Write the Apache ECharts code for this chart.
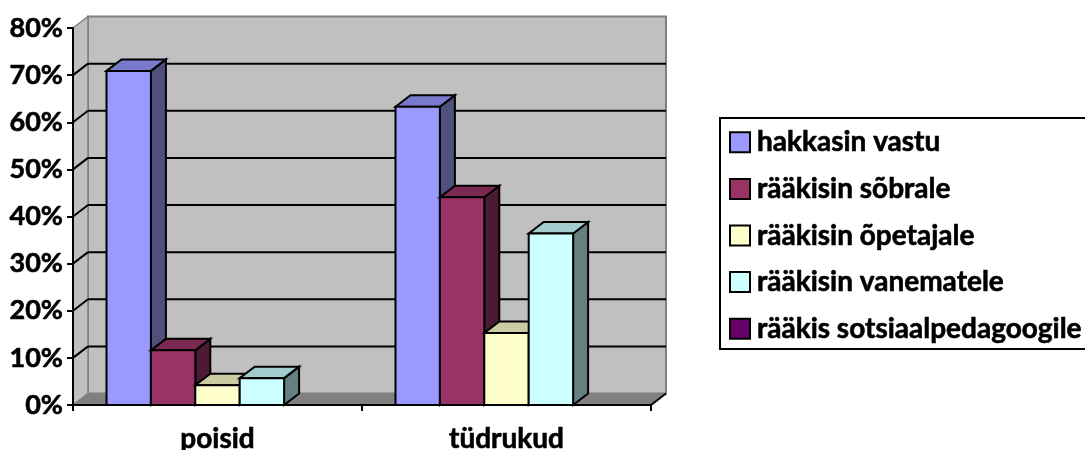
<!DOCTYPE html>
<html><head><meta charset="utf-8">
<style>html,body{margin:0;padding:0;background:#fff}#c{width:1085px;height:450px}</style>
<script src="https://cdn.jsdelivr.net/npm/echarts@6/dist/echarts.min.js"></script>
</head><body><div id="c"></div>
<script>
const categories = ['poisid', 'tüdrukud'];
const seriesNames = ['hakkasin vastu', 'rääkisin sõbrale', 'rääkisin õpetajale', 'rääkisin vanematele', 'rääkis sotsiaalpedagoogile'];
const hakkasinVastu = [0.709, 0.633];
const raakisinSobrale = [0.116, 0.441];
const raakisinOpetajale = [0.042, 0.153];
const raakisinVanematele = [0.057, 0.364];
const raakisSotsiaalpedagoogile = [0, 0];
const seriesValues = [hakkasinVastu, raakisinSobrale, raakisinOpetajale, raakisinVanematele, raakisSotsiaalpedagoogile];
const colors = ['#9999FF', '#993366', '#FFFFCC', '#CCFFFF', '#660066'];
const topColors = ['#7A7ACC', '#7A2952', '#CCCCA3', '#A3CCCC', '#520052'];
const sideColors = ['#50507F', '#4D1A33', '#7F7F66', '#668080', '#330033'];
const tickValues = [0, 0.1, 0.2, 0.3, 0.4, 0.5, 0.6, 0.7, 0.8];

const FONT = 'Lato, Carlito, "Open Sans", sans-serif';
const WEIGHT = 'bold';
const THICK = { textBorderColor: '#000', textBorderWidth: 0.6 };
const DX = 15, DY = -11.5;
const GROUP_FILL = 222 / 289;
const N = seriesNames.length;

function poly(pts, fill, stroke, lw) {
  return { type: 'polygon', shape: { points: pts }, style: { fill: fill, stroke: stroke, lineWidth: lw, lineJoin: 'miter' } };
}
function line(a, b, stroke, lw) {
  return { type: 'line', shape: { x1: a[0], y1: a[1], x2: b[0], y2: b[1] }, style: { stroke: stroke, lineWidth: lw } };
}

function renderWalls(params, api) {
  if (params.dataIndex !== 0) return;
  const catW = api.size([1, 0])[0];
  const x0 = api.coord([0, 0])[0] - catW / 2;
  const x1 = x0 + catW * categories.length;
  const y0 = api.coord([0, 0])[1];
  const yT = api.coord([0, tickValues[tickValues.length - 1]])[1];
  const G = '#808080', W = '#C0C0C0';
  const kids = [
    poly([[x0 + DX, yT + DY], [x1 + DX, yT + DY], [x1 + DX, y0 + DY], [x0 + DX, y0 + DY]], W, G, 2),
    poly([[x0, yT], [x0 + DX, yT + DY], [x0 + DX, y0 + DY], [x0, y0]], W, G, 1.5),
    poly([[x0, y0], [x0 + DX, y0 + DY], [x1 + DX, y0 + DY], [x1, y0]], G, G, 1)
  ];
  tickValues.slice(1, -1).forEach(function (t) {
    const y = api.coord([0, t])[1];
    kids.push(line([x0, y], [x0 + DX, y + DY], '#000', 2));
    kids.push(line([x0 + DX, y + DY], [x1 + DX, y + DY], '#000', 2));
  });
  kids.push(line([x1, y0], [x1 + DX, y0 + DY], '#000', 2));
  return { type: 'group', children: kids };
}

function makeRender(si) {
  return function (params, api) {
    const v = api.value(1);
    if (!v) return;
    const catW = api.size([1, 0])[0];
    const barW = catW * GROUP_FILL / N;
    const c = api.coord([api.value(0), 0]);
    const t = api.coord([api.value(0), v]);
    const l = c[0] - catW * GROUP_FILL / 2 + si * barW;
    const r = l + barW;
    const yb = c[1], yt = t[1];
    const S = '#000';
    return { type: 'group', children: [
      poly([[r, yb], [r + DX, yb + DY], [r + DX, yt + DY], [r, yt]], sideColors[si], S, 2),
      poly([[l, yt], [l + DX, yt + DY], [r + DX, yt + DY], [r, yt]], topColors[si], S, 2),
      poly([[l, yb], [l, yt], [r, yt], [r, yb]], colors[si], S, 2)
    ] };
  };
}

const series = [{
  type: 'custom', name: '_walls', silent: true, z: -1, clip: false,
  renderItem: renderWalls, data: [[0, 0]], encode: { x: 0, y: 1 }
}].concat(seriesNames.map(function (n, si) {
  return {
    type: 'custom', name: n, clip: false, z: 2 + si,
    renderItem: makeRender(si),
    itemStyle: { color: colors[si] },
    encode: { x: 0, y: 1 },
    data: categories.map(function (c, i) { return [i, seriesValues[si][i]]; })
  };
}));

const chart = echarts.init(document.getElementById('c'), null, { renderer: 'canvas' });
chart.setOption({
  animation: false,
  backgroundColor: '#fff',
  grid: { left: 73, right: 434, top: 28, bottom: 45, containLabel: false, outerBoundsMode: 'none' },
  xAxis: {
    type: 'category', data: categories,
    axisLine: { lineStyle: { color: '#000', width: 2 } },
    axisTick: { show: true, length: 6, lineStyle: { color: '#000', width: 2 } },
    axisLabel: Object.assign({ color: '#000', fontFamily: FONT, fontWeight: WEIGHT, fontSize: 28, margin: 20 }, THICK),
    splitLine: { show: false }
  },
  yAxis: {
    type: 'value', min: 0, max: 0.8, interval: 0.1,
    axisLine: { show: true, lineStyle: { color: '#000', width: 2 } },
    axisTick: { show: true, length: 6, lineStyle: { color: '#000', width: 2 } },
    axisLabel: Object.assign({ color: '#000', fontFamily: FONT, fontWeight: WEIGHT, fontSize: 27, margin: 10,
      formatter: function (v) { return Math.round(v * 100) + '%'; } }, THICK),
    splitLine: { show: false }
  },
  legend: {
    orient: 'vertical', left: 729, top: 128, padding: 0,
    itemWidth: 20, itemHeight: 20, itemGap: 18,
    selectedMode: false,
    textStyle: Object.assign({ color: '#000', fontFamily: FONT, fontWeight: WEIGHT, fontSize: 28, padding: [0, 0, 0, 2] }, THICK),
    data: seriesNames.map(function (n, si) {
      return { name: n, icon: 'rect', itemStyle: { color: colors[si], borderColor: '#000', borderWidth: 2 } };
    })
  },
  graphic: [{
    type: 'rect', z: -10, silent: true,
    shape: { x: 720, y: 118, width: 400, height: 231 },
    style: { fill: '#fff', stroke: '#000', lineWidth: 2 }
  }],
  series: series
});
</script></body></html>
